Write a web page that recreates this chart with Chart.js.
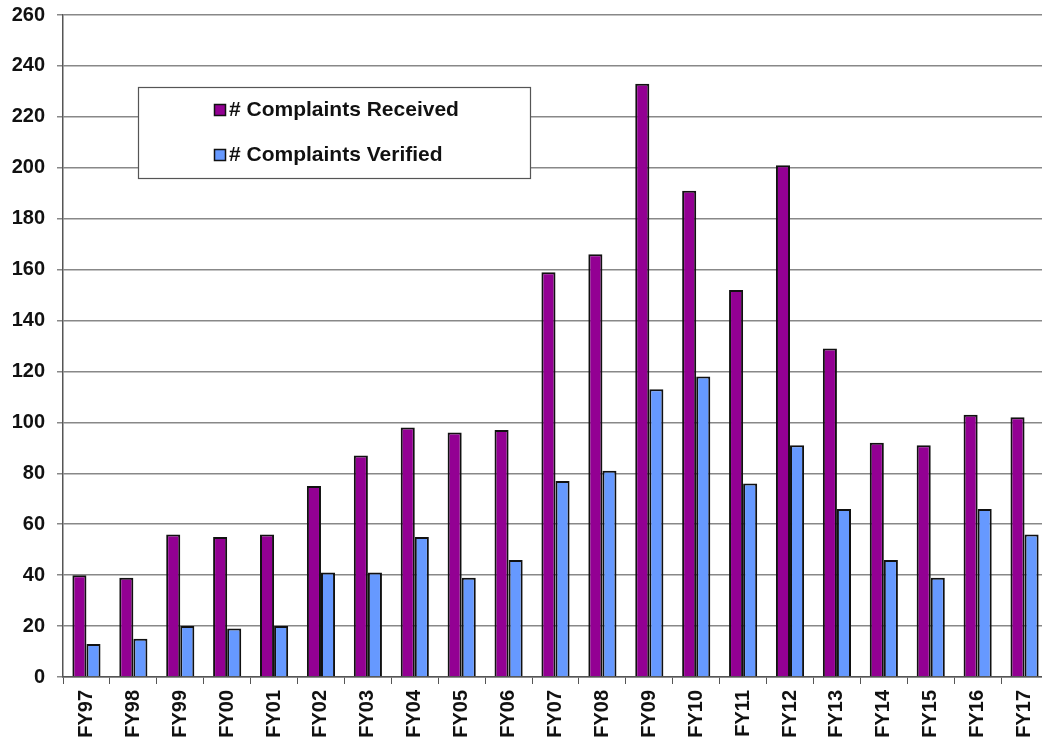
<!DOCTYPE html>
<html>
<head>
<meta charset="utf-8">
<script src="https://cdn.jsdelivr.net/npm/chart.js@4"></script>
<style>
  html, body { margin: 0; padding: 0; background: #fff; overflow: hidden; }
  #wrap { width: 1050px; height: 744px; }
</style>
</head>
<body>
<div id="wrap"><canvas id="myChart"></canvas></div>
<script>
const years = ['FY97','FY98','FY99','FY00','FY01','FY02','FY03','FY04','FY05','FY06','FY07',
  'FY08','FY09','FY10','FY11','FY12','FY13','FY14','FY15','FY16','FY17'];
const received = [40,39,56,55,56,75,87,98,96,97,159,166,233,191,152,201,129,92,91,103,102];
const verified = [13,15,20,19,20,41,41,55,39,46,77,81,113,118,76,91,66,46,39,66,56];
const yMin = 0, yMax = 260, yStep = 20;

// legend drawn as a box inside the plot, like the original
const boxLegend = {
  id: 'boxLegend',
  afterDraw(chart) {
    const c = chart.ctx, a = chart.chartArea;
    const x = a.left + 75, y = a.top + 72, w = 392, h = 91;
    c.save();
    c.fillStyle = '#fff';
    c.fillRect(x, y, w, h);
    c.strokeStyle = '#555';
    c.lineWidth = 1.2;
    c.strokeRect(x + 0.5, y + 0.5, w, h);
    c.font = 'bold 21px "Liberation Sans", Arial, sans-serif';
    c.textBaseline = 'middle';
    chart.data.datasets.forEach((ds, i) => {
      const ry = y + 23 + i * 45;
      c.fillStyle = ds.backgroundColor;
      c.fillRect(x + 76, ry - 6, 12, 12);
      c.strokeStyle = '#111';
      c.lineWidth = 1.5;
      c.strokeRect(x + 76.5, ry - 5.5, 11, 11);
      c.fillStyle = '#111';
      c.fillText(ds.label, x + 91, ry);
    });
    c.restore();
  }
};

new Chart(document.getElementById('myChart'), {
  type: 'bar',
  data: {
    labels: years,
    datasets: [{
      label: '# Complaints Received',
      data: received,
      backgroundColor: '#930093',
      borderColor: '#111',
      borderWidth: 2,
      categoryPercentage: 0.6,
      barPercentage: 1.0
    }, {
      label: '# Complaints Verified',
      data: verified,
      backgroundColor: '#6699ff',
      borderColor: '#111',
      borderWidth: 2,
      categoryPercentage: 0.6,
      barPercentage: 1.0
    }]
  },
  options: {
    responsive: true,
    maintainAspectRatio: false,
    animation: false,
    layout: { padding: { top: 15, right: 2, left: 0, bottom: 0 } },
    plugins: { legend: { display: false }, tooltip: { enabled: false } },
    scales: {
      x: {
        grid: { display: true, drawOnChartArea: false, offset: true, color: '#555', tickLength: 7 },
        border: { color: '#555', width: 1.5 },
        ticks: {
          color: '#111', maxRotation: 90, minRotation: 90, padding: 6,
          font: { family: '"Liberation Sans", Arial, sans-serif', size: 20, weight: 'bold' }
        },
        afterFit(scale) { scale.height = 67; scale.paddingLeft = 0; scale.paddingRight = 0; }
      },
      y: {
        min: yMin, max: yMax,
        grid: { color: '#888', lineWidth: 1.5, tickLength: 6 },
        border: { color: '#555', width: 1.5 },
        ticks: {
          stepSize: yStep, color: '#111', padding: 12,
          font: { family: '"Liberation Sans", Arial, sans-serif', size: 20, weight: 'bold' }
        },
        afterFit(scale) { scale.width = 63; scale.paddingTop = 0; scale.paddingBottom = 0; }
      }
    }
  },
  plugins: [boxLegend]
});
</script>
</body>
</html>
